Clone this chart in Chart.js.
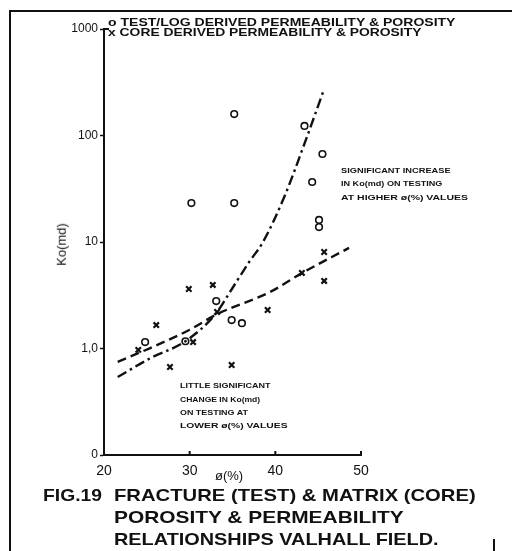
<!DOCTYPE html>
<html>
<head>
<meta charset="utf-8">
<script src="https://cdn.jsdelivr.net/npm/chart.js@4.4.0/dist/chart.umd.min.js"></script>
<style>
  html, body { margin: 0; padding: 0; background: #fff; }
  #wrap { position: relative; width: 512px; height: 551px; overflow: hidden; background: #fff; }
  #c { position: absolute; left: 0; top: 0; }
  .t { position: absolute; white-space: nowrap; color: #111; font-family: "Liberation Sans", Arial, sans-serif; font-weight: bold; transform-origin: 0 50%; line-height: 1; }
  .frame-top { position: absolute; left: 9px; top: 10px; width: 503px; height: 2px; background: #111; }
  .frame-left { position: absolute; left: 9px; top: 10px; width: 2px; height: 541px; background: #111; }
  .frame-tick { position: absolute; left: 493px; top: 539px; width: 2px; height: 12px; background: #111; }
</style>
</head>
<body>
<div id="wrap">
  <canvas id="c" width="512" height="551"></canvas>
  <div class="frame-top"></div>
  <div class="frame-left"></div>
  <div class="frame-tick"></div>

  <div class="t" id="leg1" style="left:108px; top:17px; font-size:11px;">o TEST/LOG DERIVED PERMEABILITY &amp; POROSITY</div>
  <div class="t" id="leg2" style="left:108px; top:27px; font-size:11px;">x CORE DERIVED PERMEABILITY &amp; POROSITY</div>

  <div class="t" id="a1" style="left:341px; top:167px; font-size:8px;">SIGNIFICANT INCREASE</div>
  <div class="t" id="a2" style="left:341px; top:180px; font-size:8px;">IN Ko(md) ON TESTING</div>
  <div class="t" id="a3" style="left:341px; top:194px; font-size:8px;">AT HIGHER ø(%) VALUES</div>

  <div class="t" id="b1" style="left:180px; top:382px; font-size:8px;">LITTLE SIGNIFICANT</div>
  <div class="t" id="b2" style="left:180px; top:396px; font-size:8px;">CHANGE IN Ko(md)</div>
  <div class="t" id="b3" style="left:180px; top:409px; font-size:8px;">ON TESTING AT</div>
  <div class="t" id="b4" style="left:180px; top:422px; font-size:8px;">LOWER ø(%) VALUES</div>

  <div class="t" id="xt" style="left:215px; top:469px; font-size:13px; font-weight:normal;">ø(%)</div>
  <div class="t" id="yt" style="left:40px; top:238px; font-size:13px; font-weight:normal; transform-origin: 50% 50%; transform: rotate(-90deg);">Ko(md)</div>

  <div class="t" id="f0" style="left:43px; top:487px; font-size:17px;">FIG.19</div>
  <div class="t" id="f1" style="left:114px; top:487px; font-size:17px;">FRACTURE (TEST) &amp; MATRIX (CORE)</div>
  <div class="t" id="f2" style="left:114px; top:509px; font-size:17px;">POROSITY &amp; PERMEABILITY</div>
  <div class="t" id="f3" style="left:114px; top:531px; font-size:17px;">RELATIONSHIPS VALHALL FIELD.</div>
</div>

<script>
// ---- Data ----
const xTicks = [20, 30, 40, 50];
const yTicks = [0.1, 1, 10, 100, 1000];
const yTickLabels = ["0", "1,0", "10", "100", "1000"];

// Test/log derived permeability & porosity (circles)
const testPhi = [35.2, 30.2, 35.2, 43.4, 45.5, 44.3, 45.1, 45.1, 33.1, 34.9, 36.1, 24.8, 29.5];
const testK   = [159, 23.2, 23.2, 123, 67, 36.6, 16.1, 13.8, 2.79, 1.85, 1.73, 1.15, 1.17];

// Core derived permeability & porosity (crosses)
const corePhi = [29.9, 32.7, 33.2, 26.1, 24.0, 30.4, 27.7, 34.9, 39.1, 45.7, 43.1, 45.7];
const coreK   = [3.62, 3.95, 2.20, 1.66, 0.97, 1.15, 0.67, 0.70, 2.30, 8.05, 5.12, 4.31];

// Trend through core data (dashed)
const coreTrendPhi = [21.6, 25.4, 30.0, 33.2, 39.4, 43.1, 48.6];
const coreTrendK   = [0.75, 1.01, 1.5, 2.1, 3.4, 5.1, 8.8];

// Trend through test data (dash-dot)
const testTrendPhi = [21.6, 25.4, 29.5, 33.0, 35.0, 37.0, 38.5, 41.0, 43.5, 45.6];
const testTrendK   = [0.54, 0.81, 1.17, 2.1, 3.7, 6.6, 9.8, 26, 88, 260];

const pts = (xs, ys) => xs.map((x, i) => ({ x: x, y: ys[i] }));

// fit overlay text widths
const targets = { leg1: 347, leg2: 314, a1: 110, a2: 101, a3: 127, b1: 90, b2: 80, b3: 68, b4: 107, f0: 59, f1: 362, f2: 290, f3: 325 };
for (const id in targets) {
  const el = document.getElementById(id);
  const w = el.offsetWidth;
  el.style.transform = 'scaleX(' + (targets[id] / w) + ')';
}

const innerTicks = {
  id: 'innerTicks',
  afterDraw(chart) {
    const ctx = chart.ctx;
    const xs = chart.scales.x, ys = chart.scales.y;
    ctx.save();
    ctx.strokeStyle = '#111';
    ctx.lineWidth = 2;
    ctx.beginPath();
    xTicks.slice(1).forEach(v => {
      const px = xs.getPixelForValue(v);
      ctx.moveTo(px, ys.bottom);
      ctx.lineTo(px, ys.bottom - 4);
    });
    const top = ys.getPixelForValue(1000);
    ctx.moveTo(xs.left - 1, top);
    ctx.lineTo(xs.left + 5, top);
    ctx.stroke();
    ctx.restore();
  }
};

new Chart(document.getElementById('c'), {
  type: 'scatter',
  data: {
    datasets: [
      {
        label: 'TEST/LOG DERIVED PERMEABILITY & POROSITY',
        data: pts(testPhi, testK),
        pointStyle: 'circle', pointRadius: 3.3, borderWidth: 1.6,
        borderColor: '#111', backgroundColor: 'rgba(255,255,255,0)'
      },
      {
        label: 'CORE DERIVED PERMEABILITY & POROSITY',
        data: pts(corePhi, coreK),
        pointStyle: 'crossRot', pointRadius: 3.8, borderWidth: 2.2,
        borderColor: '#111', backgroundColor: '#111'
      },
      {
        type: 'line', label: 'core trend',
        data: pts(coreTrendPhi, coreTrendK),
        borderColor: '#111', borderWidth: 2.4, borderDash: [9, 5],
        pointRadius: 0, fill: false, tension: 0.3, cubicInterpolationMode: 'monotone'
      },
      {
        type: 'line', label: 'test trend',
        data: pts(testTrendPhi, testTrendK),
        borderColor: '#111', borderWidth: 2.4, borderDash: [10, 4, 2.5, 4],
        pointRadius: 0, fill: false, cubicInterpolationMode: 'monotone'
      }
    ]
  },
  options: {
    responsive: false,
    animation: false,
    events: [],
    layout: { padding: { left: 0, right: 151, top: 29, bottom: 66 } },
    plugins: { legend: { display: false }, tooltip: { enabled: false }, title: { display: false } },
    scales: {
      x: {
        type: 'linear', min: 20, max: 50,
        afterBuildTicks: s => { s.ticks = xTicks.map(v => ({ value: v })); },
        afterFit: s => { s.height = 30; },
        grid: { display: true, drawOnChartArea: false, drawTicks: false },
        border: { color: '#111', width: 2 },
        ticks: { padding: 8, color: '#111', font: { family: 'Liberation Sans, Arial, sans-serif', size: 14 } }
      },
      y: {
        type: 'logarithmic', min: 0.1, max: 1000,
        afterBuildTicks: s => { s.ticks = yTicks.map(v => ({ value: v })); },
        afterFit: s => { s.width = 104; },
        grid: { display: true, drawOnChartArea: false, drawTicks: true, tickLength: 4, color: '#111', tickWidth: 1.5 },
        border: { color: '#111', width: 2 },
        ticks: {
          padding: 2, color: '#111', font: { family: 'Liberation Sans, Arial, sans-serif', size: 12 },
          callback: (v) => { const i = yTicks.indexOf(v); return i >= 0 ? yTickLabels[i] : ''; }
        }
      }
    }
  },
  plugins: [innerTicks]
});
</script>
</body>
</html>
